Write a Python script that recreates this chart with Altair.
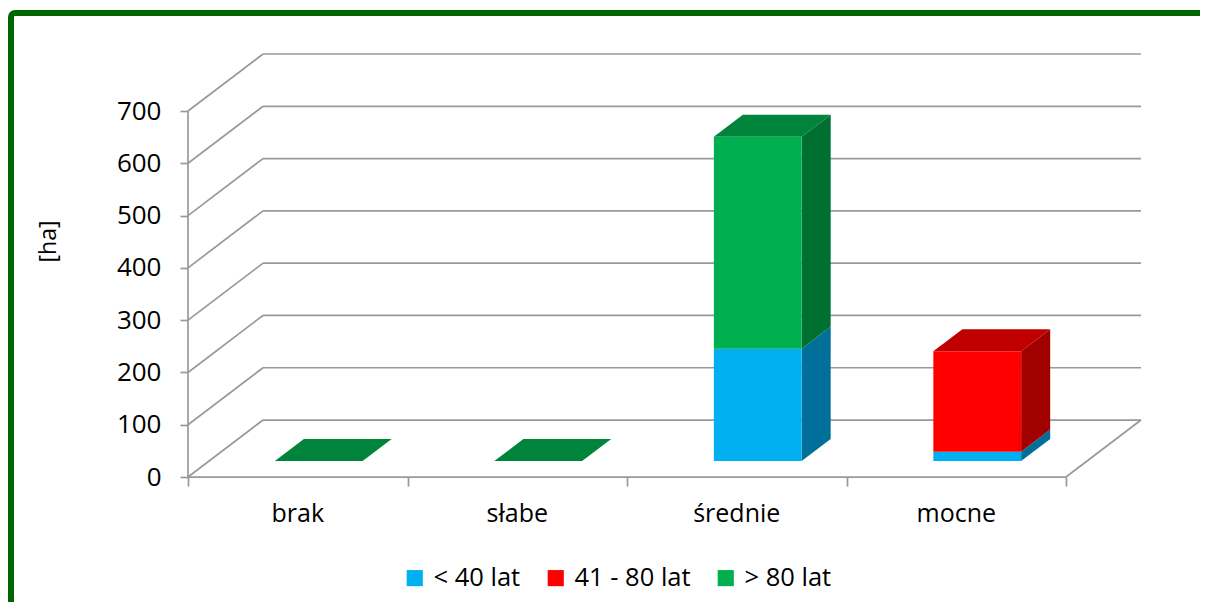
import altair as alt
import pandas as pd

# ---------------- data ----------------
categories = ["brak", "słabe", "średnie", "mocne"]
series_names = ["< 40 lat", "41 - 80 lat", "> 80 lat"]
lt40 = [0, 0, 215, 18]
m41_80 = [0, 0, 0, 192]
gt80 = [0, 0, 405, 0]
y_ticks = [0, 100, 200, 300, 400, 500, 600, 700]

# ---------------- styles ----------------
front_colors = ["#00B0F0", "#FF0000", "#00B050"]
side_colors = ["#00709A", "#A00000", "#007030"]
top_colors = ["#0086B6", "#C00000", "#00843C"]
GRID = "#999999"
FONT = "Open Sans"

# pseudo-3D geometry (in data units)
PX_CAT = 219.5
PX_UNIT = 0.5229
DX = 75 / PX_CAT          # full depth, x
DY = 57 / PX_UNIT         # full depth, y
BAR_W = 0.40
F0, F1 = 0.28, 0.667      # bar front / back depth fraction
NCAT = len(categories)
YMAX = y_ticks[-1]

W = (NCAT + DX) * PX_CAT
H = (YMAX + DY) * PX_UNIT

values = [lt40, m41_80, gt80]

fronts, sides, tops = [], [], []
for i, cat in enumerate(categories):
    base = 0
    top_series = len(series_names) - 1
    top_val = 0
    for s, name in enumerate(series_names):
        v = values[s][i]
        xl = i + 0.5 - BAR_W / 2 + F0 * DX
        xr = xl + BAR_W
        if v > 0:
            b, t = base, base + v
            fronts.append(dict(x=xl, x2=xr, y=b + F0 * DY, y2=t + F0 * DY, series=name))
            seg = f"{i}-{s}"
            sides.append(dict(seg=seg, x=xr, y=b + F0 * DY, y2=t + F0 * DY, shade=side_colors[s]))
            sides.append(dict(seg=seg, x=xr + (F1 - F0) * DX, y=b + F1 * DY, y2=t + F1 * DY,
                              shade=side_colors[s]))
            top_series = s
            top_val = t
            base = t
    xl = i + 0.5 - BAR_W / 2 + F0 * DX
    xr = xl + BAR_W
    seg = f"top{i}"
    tops.append(dict(seg=seg, y=top_val + F0 * DY, x=xl, x2=xr, shade=top_colors[top_series]))
    tops.append(dict(seg=seg, y=top_val + F1 * DY, x=xl + (F1 - F0) * DX, x2=xr + (F1 - F0) * DX,
                     shade=top_colors[top_series]))

front_df = pd.DataFrame(fronts)
side_df = pd.DataFrame(sides)
top_df = pd.DataFrame(tops)

# walls / floor lines
lines = []
for v in y_ticks:
    lines.append(dict(x=DX, x2=NCAT + DX, y=v + DY, y2=v + DY))
    lines.append(dict(x=0, x2=DX, y=v, y2=v + DY))
lines.append(dict(x=0, x2=0, y=0, y2=YMAX))
lines.append(dict(x=0, x2=NCAT, y=0, y2=0))
lines.append(dict(x=NCAT, x2=NCAT + DX, y=0, y2=DY))
lines_df = pd.DataFrame(lines)

label_df = pd.DataFrame({"x": [i + 0.5 for i in range(NCAT)], "y": [0] * NCAT, "cat": categories})

xscale = alt.Scale(domain=[0, NCAT + DX], nice=False, zero=False)
yscale = alt.Scale(domain=[0, YMAX + DY], nice=False, zero=False)

xaxis = alt.Axis(values=list(range(NCAT + 1)), labels=False, tickSize=9,
                 tickColor=GRID, tickWidth=1.7, domain=False, grid=False, title=None)
yaxis = alt.Axis(values=y_ticks, tickSize=8, tickColor=GRID, tickWidth=1.7,
                 domain=False, grid=False, labelFont=FONT, labelFontSize=26,
                 labelColor="#000000", labelPadding=19, title="[ha]",
                 titleFont=FONT, titleFontSize=23, titleFontWeight="normal",
                 titleColor="#000000", titleX=-140, titleY=187,
                 titleAlign="center", titleBaseline="middle")


def X(f="x:Q"):
    return alt.X(f, scale=xscale, axis=xaxis)


def Y(f="y:Q"):
    return alt.Y(f, scale=yscale, axis=yaxis)


grid = alt.Chart(lines_df).mark_rule(color=GRID, strokeWidth=1.7).encode(
    x=X(), x2="x2:Q", y=Y(), y2="y2:Q",
)

side = alt.Chart(side_df).mark_area(orient="vertical", strokeWidth=0).encode(
    x=X(), y=Y(), y2="y2:Q",
    detail="seg:N",
    fill=alt.Fill("shade:N", scale=None, legend=None),
)

top = alt.Chart(top_df).mark_area(orient="horizontal", strokeWidth=0).encode(
    y=Y(), x=X(), x2="x2:Q",
    detail="seg:N",
    fill=alt.Fill("shade:N", scale=None, legend=None),
)

front = alt.Chart(front_df).mark_rect(strokeWidth=0).encode(
    x=X(), x2="x2:Q", y=Y(), y2="y2:Q",
    color=alt.Color("series:N",
                    scale=alt.Scale(domain=series_names, range=front_colors),
                    legend=alt.Legend(orient="none", legendX=214, legendY=511,
                                      direction="horizontal", title=None,
                                      symbolType="square", symbolSize=260,
                                      symbolStrokeWidth=0, labelFont=FONT,
                                      labelFontSize=25.5, labelColor="#000000",
                                      labelOffset=6, columnPadding=22)),
)

labels = alt.Chart(label_df).mark_text(font=FONT, fontSize=25, color="#000000",
                                        baseline="middle", dy=37).encode(
    x=X(), y=Y(), text="cat:N",
)

frame = alt.Chart(pd.DataFrame({"k": [0]})).mark_rect(
    fill=None, stroke="#006400", strokeWidth=6, cornerRadius=4
).encode(
    x=alt.value(-177), x2=alt.value(1200), y=alt.value(-41), y2=alt.value(700)
)

chart = alt.layer(grid, side, top, front, labels, frame).resolve_scale(
    color="independent", fill="independent"
).properties(
    width=W, height=H,
    autosize=alt.AutoSizeParams(type="none"),
    padding={"left": 180, "top": 46, "right": 1192 - 180 - W, "bottom": 594 - 46 - H},
).configure_view(stroke=None)

chart.save("out.html", embed_options={"renderer": "svg", "actions": False})
